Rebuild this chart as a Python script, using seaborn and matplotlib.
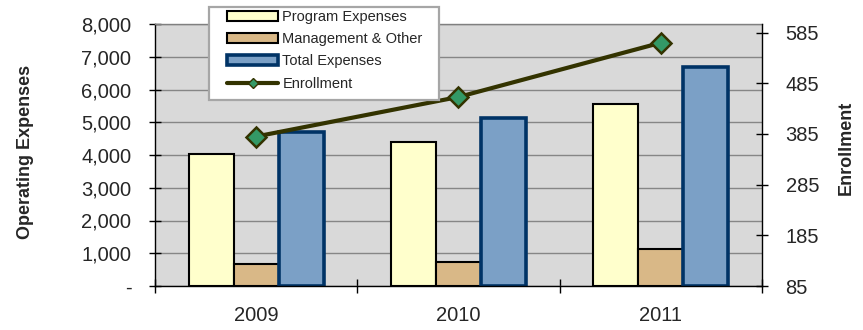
import numpy as np
import pandas as pd
import matplotlib
matplotlib.use("Agg")
import matplotlib.pyplot as plt
from matplotlib.patches import Patch, Rectangle
from matplotlib.lines import Line2D
from matplotlib.ticker import FuncFormatter, FixedLocator
import seaborn as sns

# ---- data ----
years = ["2009", "2010", "2011"]
program_expenses = [4030, 4390, 5560]
management_other = [680, 745, 1120]
total_expenses = [4710, 5135, 6680]
enrollment = [380, 458, 565]

series_names = ["Program Expenses", "Management & Other", "Total Expenses"]
expense_ticks = list(range(0, 8001, 1000))
enroll_ticks = list(range(85, 586, 100))

# ---- styling ----
sns.set_style("white")
plt.rcParams["font.family"] = ["Liberation Sans", "DejaVu Sans"]

fills = {"Program Expenses": "#FFFFCC",
         "Management & Other": "#D9B887",
         "Total Expenses": "#7BA0C6"}
edges = {"Program Expenses": ("#000000", 1.5),
         "Management & Other": ("#000000", 1.5),
         "Total Expenses": ("#003366", 2.6)}
line_color = "#333300"
marker_face = "#339966"

df = pd.DataFrame({
    "Year": years * 3,
    "Series": np.repeat(series_names, len(years)),
    "Value": program_expenses + management_other + total_expenses,
})

W, H = 863, 330
fig = plt.figure(figsize=(W / 100, H / 100), dpi=100)
ax = fig.add_axes([155 / W, 44 / H, 607 / W, 262 / H])
ax.set_facecolor("#D9D9D9")

sns.barplot(data=df, x="Year", y="Value", hue="Series", hue_order=series_names,
            palette=fills, saturation=1, width=0.667, ax=ax, legend=False)

for name, container in zip(series_names, ax.containers):
    ec, lw = edges[name]
    for bar in container:
        bar.set_edgecolor(ec)
        bar.set_linewidth(lw)
        bar.set_zorder(2)

ax.set_xlim(-0.5, len(years) - 0.5)
ax.set_ylim(0, 8000)
ax.set_yticks(expense_ticks)
ax.yaxis.set_major_formatter(FuncFormatter(lambda v, p: "-" if v == 0 else f"{v:,.0f}"))
ax.set_axisbelow(True)
ax.yaxis.grid(True, color="#868686", linewidth=1.0)
ax.xaxis.grid(False)
ax.set_xlabel("")
ax.set_ylabel("")

ax.tick_params(axis="y", direction="inout", length=8, width=1, color="black",
               pad=13, labelsize=14.5, left=True)
ax.tick_params(axis="x", which="major", length=0, pad=14.5, labelsize=14.5)
ax.xaxis.set_minor_locator(FixedLocator(np.arange(-0.5, len(years), 1.0)))
ax.tick_params(axis="x", which="minor", direction="inout", length=10, width=1,
               color="black", bottom=True)

for side in ("left", "bottom"):
    ax.spines[side].set_color("black")
    ax.spines[side].set_linewidth(1.0)
ax.spines["top"].set_color("#808080")
ax.spines["top"].set_linewidth(1.0)
ax.spines["right"].set_visible(False)

# enrollment on the secondary axis
ax2 = ax.twinx()
sns.lineplot(x=np.arange(len(years)), y=enrollment, ax=ax2, color=line_color,
             linewidth=3, marker="D", markersize=10.5, markerfacecolor=marker_face,
             markeredgecolor=line_color, markeredgewidth=1.8, legend=False)
ax2.set_xlim(-0.5, len(years) - 0.5)
ax2.set_ylim(85, 602)
ax2.set_yticks(enroll_ticks)
ax2.set_ylabel("")
ax2.tick_params(axis="y", direction="inout", length=8, width=1, color="black",
                pad=13, labelsize=14.5, right=True)
for side in ("left", "top", "bottom"):
    ax2.spines[side].set_visible(False)
ax2.spines["right"].set_color("black")
ax2.spines["right"].set_linewidth(1.0)

# axis titles
fig.text(25 / W, 1 - 152 / H, "Operating Expenses", rotation=90, ha="center",
         va="center", fontsize=13, fontweight="bold")
fig.text(846 / W, 1 - 148 / H, "Enrollment", rotation=90, ha="center",
         va="center", fontsize=13, fontweight="bold")

# legend box with its entries
fig.add_artist(Rectangle((209 / W, 1 - 100 / H), 230 / W, 93 / H,
                         transform=fig.transFigure, facecolor="white",
                         edgecolor="#A6A6A6", linewidth=1.6, zorder=4))
handles = [Patch(facecolor=fills[n], edgecolor=edges[n][0], linewidth=edges[n][1])
           for n in series_names]
handles.append(Line2D([], [], color=line_color, linewidth=3, marker="D",
                      markersize=5.5, markerfacecolor=marker_face,
                      markeredgecolor=line_color, markeredgewidth=1))
labels = series_names + ["Enrollment"]
leg = fig.legend(handles, labels, loc="upper left",
                 bbox_to_anchor=(227 / W, 1 - 10 / H), frameon=False,
                 fontsize=10.5, handlelength=3.5, handleheight=0.65,
                 handletextpad=0.3, labelspacing=0.56, borderpad=0,
                 borderaxespad=0, numpoints=1)
leg.set_zorder(5)

fig.savefig("out.png", dpi=100)
